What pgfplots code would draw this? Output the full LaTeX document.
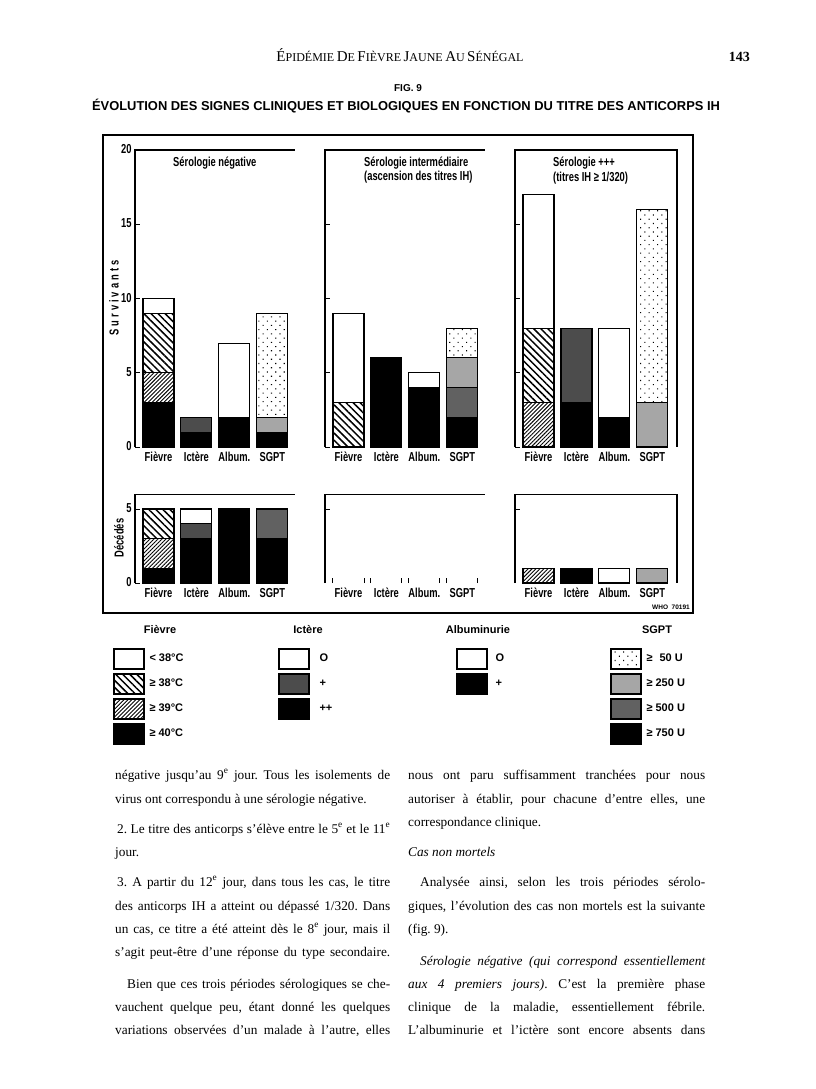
\documentclass[border=0pt]{standalone}
\usepackage{fontspec}
\usepackage{graphicx}
\setmainfont{Liberation Serif}
\setsansfont{Liberation Sans}
\newfontfamily\cond{Liberation Sans}[FakeStretch=0.72]
\usepackage{pgfplots}
\pgfplotsset{compat=1.18}
\usetikzlibrary{patterns.meta}
\frenchspacing

\tikzset{
 lt38/.style={fill=white},
 ge38/.style={fill=white, postaction={pattern={Lines[angle=-45,distance=5pt,line width=1.5pt]}}},
 ge39/.style={fill=white, postaction={pattern={Lines[angle=45,distance=2.8pt,line width=0.9pt]}}},
 ge40/.style={fill=black},
 ictO/.style={fill=white},
 ictP/.style={fill=black!70},
 ictPP/.style={fill=black},
 albO/.style={fill=white},
 albP/.style={fill=black},
 s50/.style={fill=white, postaction={pattern={Dots[distance=6pt,angle=45,radius=0.75pt]}}},
 s250/.style={fill=black!35},
 s500/.style={fill=black!62},
 s750/.style={fill=black},
}
\pgfplotsset{
 seg/.style={bar shift=0pt, draw=black, line width=1.1pt},
 panel/.style={
   scale only axis, ybar, bar width=31pt,
   xmin=-0.62, xmax=3.6, ymin=0,
   axis line style={draw=none},
   xtick={0,1,2,3}, xticklabels={Fièvre,Ictère,Album.,SGPT},
   xtick pos=bottom, ytick pos=left,
   major x tick style={draw=none},
   tick align=inside, major tick length=5pt,
   tick style={line width=1pt, black},
   ticklabel style={font=\cond\bfseries\fontsize{13}{18}\selectfont},
   typeset ticklabels with strut,
   xticklabel style={yshift=2pt},
   /pgf/number format/assume math mode=true,
   clip=false,
 },
 toprow/.style={panel, width=160pt, height=297pt, ymax=20, ytick={0,5,10,15,20}},
 botrow/.style={panel, width=160pt, height=88.8pt, ymax=6},
 leg/.style={hide axis, scale only axis, width=10pt, height=10pt, xmin=0, xmax=1, ymin=0, ymax=1,
   anchor=north west,
   legend style={at={(0,1)}, anchor=north west, draw=none, fill=none, inner sep=0pt,
     row sep=3.7pt, column sep=#1, font=\sffamily\bfseries\fontsize{11}{12}\selectfont,
     cells={anchor=west}},
   legend image code/.code={\draw[##1, line width=1.3pt] (0pt,-10pt) rectangle (30pt,10pt);}},
}
\newsavebox\tb
\newcommand\jline[4]{\node[anchor=base west,inner sep=0pt] at (#1pt,-#2pt) {\sbox\tb{#4}\ifdim\wd\tb>#3pt\usebox\tb\else\makebox[#3pt][s]{#4}\fi};}
\newcommand\nline[3]{\node[anchor=base west,inner sep=0pt] at (#1pt,-#2pt) {#3};}
\newcommand\hs[2]{{\fontsize{15}{15}\selectfont #1}{\fontsize{12}{12}\selectfont #2}}
\newcommand\sps[1]{\textsuperscript{#1}}

\begin{document}
\begin{tikzpicture}
\fill[white] (0pt,0pt) rectangle (816pt,-1089pt);
\useasboundingbox (0pt,0pt) rectangle (816pt,-1089pt);

% header
\node[anchor=base,inner sep=0pt] at (400pt,-62pt) {\hs{É}{PIDÉMIE} \hs{D}{E} \hs{F}{IÈVRE} \hs{J}{AUNE} \hs{A}{U} \hs{S}{ÉNÉGAL}};
\node[anchor=base east,inner sep=0pt] at (750pt,-62pt) {\fontsize{14}{14}\selectfont\bfseries 143};
\node[anchor=base,inner sep=0pt] at (408pt,-92pt) {\sffamily\bfseries\fontsize{10}{12}\selectfont FIG. 9};
\node[anchor=base,inner sep=0pt] at (406pt,-111pt) {\sffamily\bfseries\fontsize{12.9}{14}\selectfont ÉVOLUTION DES SIGNES CLINIQUES ET BIOLOGIQUES EN FONCTION DU TITRE DES ANTICORPS IH};

% frame
\draw[line width=1.4pt] (103pt,-135pt) rectangle (693pt,-613pt);

% ---------- top row ----------
\begin{axis}[toprow, at={(135pt,-447pt)}, anchor=south west]
\addplot[seg,lt38] coordinates {(0,10)};
\addplot[seg,ge38] coordinates {(0,9)};
\addplot[seg,ge39] coordinates {(0,5)};
\addplot[seg,ge40] coordinates {(0,3)};
\addplot[seg,ictP] coordinates {(1,2)};
\addplot[seg,ictPP] coordinates {(1,1)};
\addplot[seg,albO] coordinates {(2,7)};
\addplot[seg,albP] coordinates {(2,2)};
\addplot[seg,s50] coordinates {(3,9)};
\addplot[seg,s250] coordinates {(3,2)};
\addplot[seg,s750] coordinates {(3,1)};
\draw[line width=1.3pt] (rel axis cs:0,0) -- (rel axis cs:0,1) -- (rel axis cs:1,1);
\end{axis}

\begin{axis}[toprow, yticklabels={}, at={(325pt,-447pt)}, anchor=south west]
\addplot[seg,lt38] coordinates {(0,9)};
\addplot[seg,ge38] coordinates {(0,3)};
\addplot[seg,ictPP] coordinates {(1,6)};
\addplot[seg,albO] coordinates {(2,5)};
\addplot[seg,albP] coordinates {(2,4)};
\addplot[seg,s50] coordinates {(3,8)};
\addplot[seg,s250] coordinates {(3,6)};
\addplot[seg,s500] coordinates {(3,4)};
\addplot[seg,s750] coordinates {(3,2)};
\draw[line width=1.3pt] (rel axis cs:0,0) -- (rel axis cs:0,1) -- (rel axis cs:1,1);
\end{axis}

\begin{axis}[toprow, yticklabels={}, width=162pt, xmax=3.65, at={(515pt,-447pt)}, anchor=south west]
\addplot[seg,lt38] coordinates {(0,17)};
\addplot[seg,ge38] coordinates {(0,8)};
\addplot[seg,ge39] coordinates {(0,3)};
\addplot[seg,ictP] coordinates {(1,8)};
\addplot[seg,ictPP] coordinates {(1,3)};
\addplot[seg,albO] coordinates {(2,8)};
\addplot[seg,albP] coordinates {(2,2)};
\addplot[seg,s50] coordinates {(3,16)};
\addplot[seg,s250] coordinates {(3,3)};
\draw[line width=1.3pt] (rel axis cs:0,0) -- (rel axis cs:0,1) -- (rel axis cs:1,1) -- (rel axis cs:1,0);
\end{axis}

% ---------- bottom row ----------
\begin{axis}[botrow, ytick={0,5}, at={(135pt,-583pt)}, anchor=south west]
\addplot[seg,ge38] coordinates {(0,5)};
\addplot[seg,ge39] coordinates {(0,3)};
\addplot[seg,ge40] coordinates {(0,1)};
\addplot[seg,ictO] coordinates {(1,5)};
\addplot[seg,ictP] coordinates {(1,4)};
\addplot[seg,ictPP] coordinates {(1,3)};
\addplot[seg,albP] coordinates {(2,5)};
\addplot[seg,s500] coordinates {(3,5)};
\addplot[seg,s750] coordinates {(3,3)};
\draw[line width=1.3pt] (rel axis cs:0,0) -- (rel axis cs:0,1) -- (rel axis cs:1,1);
\end{axis}

\begin{axis}[botrow, ytick={5}, yticklabels={}, at={(325pt,-583pt)}, anchor=south west,
  xtick={-0.41,0.41,0.59,1.41,1.59,2.41,2.59,3.41}, xticklabels={},
  major x tick style={draw=black, line width=1pt},
  extra x ticks={0,1,2,3}, extra x tick labels={Fièvre,Ictère,Album.,SGPT},
  extra x tick style={major tick length=0pt}]
\draw[line width=1.3pt] (rel axis cs:0,0) -- (rel axis cs:0,1) -- (rel axis cs:1,1);
\end{axis}

\begin{axis}[botrow, ytick={5}, yticklabels={}, width=162pt, xmax=3.65, at={(515pt,-583pt)}, anchor=south west]
\addplot[seg,ge39] coordinates {(0,1)};
\addplot[seg,ictPP] coordinates {(1,1)};
\addplot[seg,albO] coordinates {(2,1)};
\addplot[seg,s250] coordinates {(3,1)};
\draw[line width=1.3pt] (rel axis cs:0,0) -- (rel axis cs:0,1) -- (rel axis cs:1,1) -- (rel axis cs:1,0);
\end{axis}

% panel texts
\begin{scope}[every node/.style={inner sep=0pt, font=\cond\bfseries\fontsize{13}{14}\selectfont}]
\node[anchor=west] at (173pt,-163pt) {Sérologie négative};
\node[anchor=west] at (364pt,-163pt) {Sérologie intermédiaire};
\node[anchor=west] at (364pt,-177pt) {(ascension des titres IH)};
\node[anchor=west] at (553pt,-163pt) {Sérologie +++};
\node[anchor=west] at (553pt,-178pt) {(titres IH ≥ 1/320)};
\node[rotate=90] at (114pt,-298pt) {S\kern3pt u\kern3pt r\kern3pt v\kern3pt i\kern3pt v\kern3pt a\kern3pt n\kern3pt t\kern3pt s};
\node[rotate=90] at (119pt,-538pt) {Décédés};
\end{scope}
\node[anchor=east,inner sep=0pt] at (690pt,-607pt) {\sffamily\bfseries\fontsize{6.5}{7}\selectfont WHO\ \ 70191};

% ---------- legend ----------
\begin{scope}[every node/.style={inner sep=0pt, font=\sffamily\bfseries\fontsize{11}{12}\selectfont}]
\node at (160pt,-630pt) {Fièvre};
\node at (308pt,-630pt) {Ictère};
\node at (478pt,-630pt) {Albuminurie};
\node at (657pt,-630pt) {SGPT};
\end{scope}
\begin{axis}[leg=3pt, at={(113pt,-648pt)}]
\addlegendimage{lt38}\addlegendentry{< 38°C}
\addlegendimage{ge38}\addlegendentry{≥ 38°C}
\addlegendimage{ge39}\addlegendentry{≥ 39°C}
\addlegendimage{ge40}\addlegendentry{≥ 40°C}
\end{axis}
\begin{axis}[leg=8pt, at={(278pt,-648pt)}]
\addlegendimage{ictO}\addlegendentry{O}
\addlegendimage{ictP}\addlegendentry{+}
\addlegendimage{ictPP}\addlegendentry{++}
\end{axis}
\begin{axis}[leg=6pt, at={(456pt,-648pt)}]
\addlegendimage{albO}\addlegendentry{O}
\addlegendimage{albP}\addlegendentry{+}
\end{axis}
\begin{axis}[leg=3pt, at={(610pt,-648pt)}]
\addlegendimage{s50}\addlegendentry{≥\hspace{7pt}50 U}
\addlegendimage{s250}\addlegendentry{≥ 250 U}
\addlegendimage{s500}\addlegendentry{≥ 500 U}
\addlegendimage{s750}\addlegendentry{≥ 750 U}
\end{axis}

% ---------- body text ----------
\begin{scope}[every node/.style={font=\fontsize{13.3}{15}\selectfont}]
\jline{115}{779}{275}{négative jusqu’au 9\sps{e} jour. Tous les isolements de}
\nline{115}{803}{virus ont correspondu à une sérologie négative.}
\jline{117}{833}{273}{2. Le titre des anticorps s’élève entre le 5\sps{e} et le 11\sps{e}}
\nline{115}{856}{jour.}
\jline{117}{886}{273}{3. A partir du 12\sps{e} jour, dans tous les cas, le titre}
\jline{115}{910}{275}{des anticorps IH a atteint ou dépassé 1/320. Dans}
\jline{115}{933}{275}{un cas, ce titre a été atteint dès le 8\sps{e} jour, mais il}
\jline{115}{956}{275}{s’agit peut-être d’une réponse du type secondaire.}
\jline{127}{988}{263}{Bien que ces trois périodes sérologiques se che-}
\jline{115}{1011}{275}{vauchent quelque peu, étant donné les quelques}
\jline{115}{1034}{275}{variations observées d’un malade à l’autre, elles}

\jline{408}{779}{297}{nous ont paru suffisamment tranchées pour nous}
\jline{408}{803}{297}{autoriser à établir, pour chacune d’entre elles, une}
\nline{408}{826}{correspondance clinique.}
\nline{408}{856}{\itshape Cas non mortels}
\jline{420}{886}{285}{Analysée ainsi, selon les trois périodes sérolo-}
\jline{408}{910}{297}{giques, l’évolution des cas non mortels est la suivante}
\nline{408}{933}{(fig. 9).}
\jline{420}{965}{285}{\itshape Sérologie négative (qui correspond essentiellement}
\jline{408}{988}{297}{\textit{aux 4 premiers jours)}. C’est la première phase}
\jline{408}{1011}{297}{clinique de la maladie, essentiellement fébrile.}
\jline{408}{1034}{297}{L’albuminurie et l’ictère sont encore absents dans}
\end{scope}
\end{tikzpicture}
\end{document}
